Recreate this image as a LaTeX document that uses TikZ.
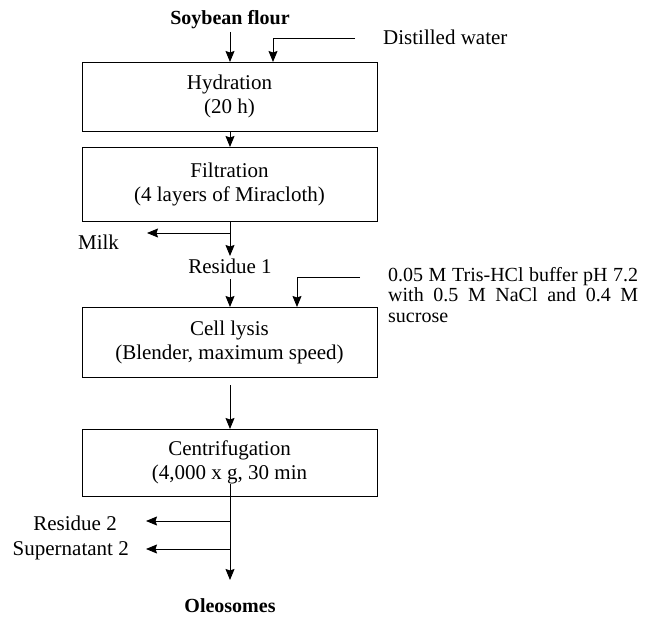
\documentclass[tikz,border=0pt]{standalone}
\usepackage{fontspec}
\setmainfont{Liberation Serif}
\usetikzlibrary{arrows.meta}
\begin{document}
\begin{tikzpicture}[x=1pt, y=-1pt, font=\fontsize{21}{24}\selectfont]
		\tikzset{stage/.style={draw, line width=1pt, minimum width=295pt, align=center, inner sep=0}}
		\tikzset{ar/.style={-{Stealth[length=11pt, width=9pt, inset=1.5pt]}, line width=0.9pt}}
		\tikzset{lbl/.style={inner sep=0, anchor=center}}
		\useasboundingbox (0,0) rectangle (647,618);
		\node[lbl, font=\fontsize{20}{24}\selectfont\bfseries] at (230, 20) (flour) {Soybean flour};
		\node[lbl, anchor=west] at (383, 37) (water) {Distilled water};
		\node[stage, minimum height=69pt] at (229.5, 96.5) (hyd) {Hydration\\(20 h)};
		\node[stage, minimum height=74pt] at (229.5, 184) (filt) {Filtration\\(4 layers of Miracloth)};
		\node[lbl] at (98.5, 242) (milk) {Milk};
		\node[lbl] at (230, 266) (res1) {Residue 1};
		\node[lbl, anchor=north west, text width=250pt, align=justify, font=\fontsize{20}{20.5}\selectfont] at (388, 267) (buffer) {0.05 M Tris-HCl buffer pH 7.2\linebreak with 0.5 M NaCl and 0.4 M\linebreak sucrose};
		\node[stage, minimum height=70pt] at (229.5, 342) (lysis) {Cell lysis\\(Blender, maximum speed)};
		\node[stage, minimum height=67pt] at (229.5, 462.5) (cent) {Centrifugation\\(4,000 x g, 30 min};
		\node[lbl, anchor=east] at (117, 523) (res2) {Residue 2};
		\node[lbl, anchor=east] at (129, 551) (sup2) {Supernatant 2};
		\node[lbl, font=\fontsize{20}{24}\selectfont\bfseries] at (230, 606) (oleo) {Oleosomes};
		\coordinate (w1) at (355, 38);
		\coordinate (b1) at (360, 277);
		\coordinate (m1) at (230, 233);
		\coordinate (r2) at (230, 521);
		\coordinate (s2) at (230, 549);
		\draw[ar] (230, 32) -- (230, 62);
		\draw[ar] (w1) -| (273, 62);
		\draw[ar] (230, 131) -- (230, 147);
		\draw[line width=0.9pt] (230, 221) -- (m1);
		\draw[ar] (m1) -- (147, 233);
		\draw[ar] (m1) -- (230, 256);
		\draw[ar] (230, 279) -- (230, 307);
		\draw[ar] (b1) -| (297, 307);
		\draw[ar] (230, 385) -- (230, 429);
		\draw[ar] (230, 484) -- (230, 580);
		\draw[ar] (r2) -- (146, 521);
		\draw[ar] (s2) -- (146, 549);
	\end{tikzpicture}
\end{document}
